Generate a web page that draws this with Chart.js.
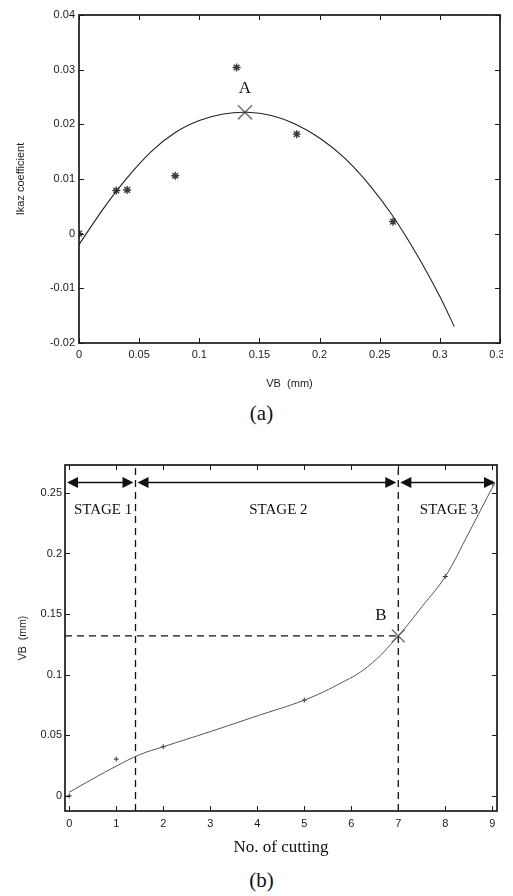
<!DOCTYPE html>
<html>
<head>
<meta charset="utf-8">
<script src="https://cdn.jsdelivr.net/npm/chart.js@4"></script>
<style>
  html, body { margin: 0; padding: 0; background: #fff; }
  body { width: 513px; height: 896px; position: relative; overflow: hidden; }
  .wrap { position: absolute; left: 0; overflow: hidden; }
  .cap { position: absolute; left: 5px; width: 513px; text-align: center; line-height: 26px;
         font-family: "Liberation Serif", "Times New Roman", serif; font-size: 21px; color: #111; }
</style>
</head>
<body>
<div class="wrap" style="top:0;width:503px;height:400px"><canvas id="chartA" width="513" height="400"></canvas></div>
<div class="cap" style="top:400px">(a)</div>
<div class="wrap" style="top:440px;width:513px;height:420px"><canvas id="chartB" width="513" height="420"></canvas></div>
<div class="cap" style="top:867px">(b)</div>
<script>
// ---- (a) Ikaz coefficient vs VB ----
const vbFitX   = [0, 0.02, 0.04, 0.06, 0.08, 0.10, 0.12, 0.14, 0.16, 0.18, 0.20, 0.22, 0.24, 0.26, 0.28, 0.30, 0.312];
const ikazFitY = [-0.002, 0.0045, 0.0102, 0.015, 0.0185, 0.0207, 0.0219, 0.0222, 0.0216, 0.02, 0.0175, 0.014, 0.0093, 0.0035, -0.0035, -0.0115, -0.017];
const vbMeasX   = [0, 0.031, 0.04, 0.08, 0.131, 0.181, 0.261];
const ikazMeasY = [0, 0.0079, 0.008, 0.0106, 0.0304, 0.0182, 0.0022];
const pointA = [0.138, 0.0222];
const xTicksA = [0, 0.05, 0.1, 0.15, 0.2, 0.25, 0.3, 0.35];
const yTicksA = [-0.02, -0.01, 0, 0.01, 0.02, 0.03, 0.04];

// ---- (b) VB vs number of cuttings ----
const cutX   = [0, 0.5, 1, 1.5, 2, 3, 4, 5, 5.7, 6.35, 7, 7.5, 8, 8.5, 8.83, 9.05];
const vbFitB = [0.003, 0.014, 0.0245, 0.034, 0.0405, 0.053, 0.066, 0.079, 0.0915, 0.1066, 0.132, 0.156, 0.181, 0.217, 0.2417, 0.258];
const cutMeasX = [0, 1, 2, 5, 8, 9];
const vbMeasB  = [0, 0.0303, 0.0405, 0.079, 0.181, 0.258];
const stageEdges = [1.41, 7];
const stageNames = ['STAGE 1', 'STAGE 2', 'STAGE 3'];
const pointB = [7, 0.132];
const xTicksB = [0, 1, 2, 3, 4, 5, 6, 7, 8, 9];
const yTicksB = [0, 0.05, 0.1, 0.15, 0.2, 0.25];

const xRangeB = [-0.09, 9.1];
const yRangeB = [-0.0125, 0.273];

Chart.defaults.font.family = '"Liberation Sans", Arial, sans-serif';
Chart.defaults.color = '#1a1a1a';

const pts = (xs, ys) => xs.map((x, i) => ({x: x, y: ys[i]}));
const fmt = v => String(+v.toFixed(3));

// box round the plot with ticks pointing inward, matlab style
const framePlugin = {
  id: 'frame',
  afterDatasetsDraw(chart) {
    const {ctx, chartArea: a, scales: {x, y}} = chart;
    ctx.save();
    ctx.strokeStyle = '#1a1a1a';
    ctx.lineWidth = 1;
    ctx.beginPath();
    x.ticks.forEach(t => {
      const px = Math.round(x.getPixelForValue(t.value)) + 0.5;
      ctx.moveTo(px, a.bottom); ctx.lineTo(px, a.bottom - 5);
      ctx.moveTo(px, a.top); ctx.lineTo(px, a.top + 5);
    });
    y.ticks.forEach(t => {
      const py = Math.round(y.getPixelForValue(t.value)) + 0.5;
      ctx.moveTo(a.left, py); ctx.lineTo(a.left + 5, py);
      ctx.moveTo(a.right, py); ctx.lineTo(a.right - 5, py);
    });
    ctx.stroke();
    ctx.lineWidth = 1.7;
    ctx.strokeRect(a.left, a.top, a.right - a.left, a.bottom - a.top);
    ctx.restore();
  }
};

const labelA = {
  id: 'labelA',
  afterDatasetsDraw(chart) {
    const {ctx, scales: {x, y}} = chart;
    ctx.save();
    ctx.font = '17px "Liberation Serif", serif';
    ctx.fillStyle = '#111';
    ctx.textAlign = 'center';
    ctx.textBaseline = 'middle';
    ctx.fillText('A', x.getPixelForValue(pointA[0]), y.getPixelForValue(0.0266));
    ctx.restore();
  }
};

function arrowHead(ctx, x, y, dir) {
  ctx.beginPath();
  ctx.moveTo(x, y);
  ctx.lineTo(x - dir * 11, y - 5.5);
  ctx.lineTo(x - dir * 11, y + 5.5);
  ctx.closePath();
  ctx.fill();
}

const stagesPlugin = {
  id: 'stages',
  afterDatasetsDraw(chart) {
    const {ctx, scales: {x, y}} = chart;
    const edges = [xRangeB[0]].concat(stageEdges, [xRangeB[1]]);
    const ay = Math.round(y.getPixelForValue(0.259)) + 0.5;
    ctx.save();
    ctx.strokeStyle = '#111';
    ctx.fillStyle = '#111';
    ctx.lineWidth = 1.6;
    for (let i = 0; i < edges.length - 1; i++) {
      const x1 = x.getPixelForValue(edges[i]) + 2;
      const x2 = x.getPixelForValue(edges[i + 1]) - 2;
      ctx.beginPath();
      ctx.moveTo(x1 + 6, ay); ctx.lineTo(x2 - 6, ay);
      ctx.stroke();
      arrowHead(ctx, x1, ay, -1);
      arrowHead(ctx, x2, ay, 1);
    }
    ctx.font = '15px "Liberation Serif", serif';
    ctx.textAlign = 'center';
    ctx.textBaseline = 'middle';
    const stageX = [0.72, 4.45, 8.08];
    stageNames.forEach((s, i) => {
      ctx.fillText(s, x.getPixelForValue(stageX[i]), y.getPixelForValue(0.2355));
    });
    ctx.font = '17px "Liberation Serif", serif';
    ctx.fillText('B', x.getPixelForValue(6.63), y.getPixelForValue(0.149));
    ctx.restore();
  }
};

// keep the plot box where the layout puts it, labels may hang over
const noPadX = h => s => { s.height = h; s.paddingLeft = 0; s.paddingRight = 0; };
const noPadY = w => s => { s.width = w; s.paddingTop = 0; s.paddingBottom = 0; };

new Chart(document.getElementById('chartA'), {
  type: 'scatter',
  data: {
    datasets: [
      {
        data: pts(vbFitX, ikazFitY),
        showLine: true,
        borderColor: '#222',
        borderWidth: 1.1,
        pointRadius: 0,
        tension: 0.3
      },
      {
        data: pts(vbMeasX, ikazMeasY),
        pointStyle: 'star',
        pointRadius: 4,
        borderColor: '#3a3a3a',
        backgroundColor: '#3a3a3a',
        borderWidth: 1.4
      },
      {
        data: [{x: pointA[0], y: pointA[1]}],
        pointStyle: 'crossRot',
        pointRadius: 10,
        borderColor: '#777',
        borderWidth: 1.6
      }
    ]
  },
  options: {
    responsive: false,
    animation: false,
    devicePixelRatio: 1,
    layout: {padding: {top: 15, right: 13, left: 0, bottom: 0}},
    plugins: {legend: {display: false}, tooltip: {enabled: false}},
    scales: {
      x: {
        type: 'linear',
        min: 0, max: 0.35,
        afterBuildTicks: s => { s.ticks = xTicksA.map(v => ({value: v})); },
        afterFit: noPadX(57),
        grid: {display: false, drawTicks: false},
        border: {display: false},
        ticks: {padding: 5, autoSkip: false, maxRotation: 0, font: {size: 11}, callback: fmt},
        title: {display: true, text: 'VB  (mm)', font: {size: 11}, padding: {top: 0, bottom: 9}}
      },
      y: {
        type: 'linear',
        min: -0.02, max: 0.04,
        afterBuildTicks: s => { s.ticks = yTicksA.map(v => ({value: v})); },
        afterFit: noPadY(79),
        grid: {display: false, drawTicks: false},
        border: {display: false},
        ticks: {padding: 4, autoSkip: false, font: {size: 11}, callback: fmt},
        title: {display: true, text: 'Ikaz coefficient', font: {size: 11}, padding: {top: 14, bottom: 0}}
      }
    }
  },
  plugins: [framePlugin, labelA]
});

const dashed = (data) => ({
  data: data,
  showLine: true,
  borderColor: '#111',
  borderWidth: 1.3,
  borderDash: [7, 5],
  pointRadius: 0
});

new Chart(document.getElementById('chartB'), {
  type: 'scatter',
  data: {
    datasets: [
      {
        data: pts(cutX, vbFitB),
        showLine: true,
        borderColor: '#555',
        borderWidth: 1,
        pointRadius: 0,
        tension: 0.4
      },
      {
        data: pts(cutMeasX, vbMeasB),
        pointStyle: 'cross',
        pointRadius: 2.5,
        borderColor: '#333',
        borderWidth: 1
      },
      dashed([{x: stageEdges[0], y: yRangeB[0]}, {x: stageEdges[0], y: yRangeB[1]}]),
      dashed([{x: stageEdges[1], y: yRangeB[0]}, {x: stageEdges[1], y: yRangeB[1]}]),
      dashed([{x: xRangeB[0], y: pointB[1]}, {x: pointB[0], y: pointB[1]}]),
      {
        data: [{x: pointB[0], y: pointB[1]}],
        pointStyle: 'crossRot',
        pointRadius: 9,
        borderColor: '#777',
        borderWidth: 1.6
      }
    ]
  },
  options: {
    responsive: false,
    animation: false,
    devicePixelRatio: 1,
    layout: {padding: {top: 25, right: 16, left: 0, bottom: 0}},
    plugins: {legend: {display: false}, tooltip: {enabled: false}},
    scales: {
      x: {
        type: 'linear',
        min: xRangeB[0], max: xRangeB[1],
        afterBuildTicks: s => { s.ticks = xTicksB.map(v => ({value: v})); },
        afterFit: noPadX(49),
        grid: {display: false, drawTicks: false},
        border: {display: false},
        ticks: {padding: 6, autoSkip: false, maxRotation: 0, font: {size: 11}, callback: fmt},
        title: {display: true, text: 'No. of cutting', font: {family: '"Liberation Serif", serif', size: 17}, color: '#111', padding: {top: 0, bottom: 2}}
      },
      y: {
        type: 'linear',
        min: yRangeB[0], max: yRangeB[1],
        afterBuildTicks: s => { s.ticks = yTicksB.map(v => ({value: v})); },
        afterFit: noPadY(65),
        grid: {display: false, drawTicks: false},
        border: {display: false},
        ticks: {padding: 3, autoSkip: false, font: {size: 11}, callback: fmt},
        title: {display: true, text: 'VB  (mm)', font: {size: 10.5}, padding: {top: 17, bottom: 0}}
      }
    }
  },
  plugins: [framePlugin, stagesPlugin]
});
</script>
</body>
</html>
